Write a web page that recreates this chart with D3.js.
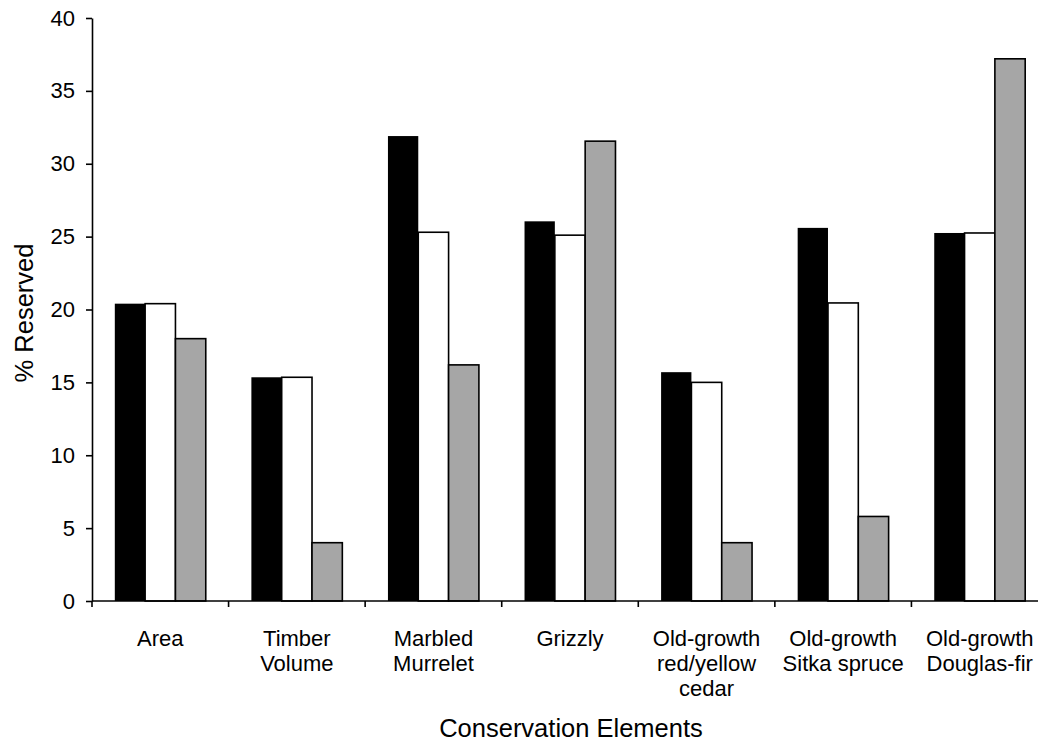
<!DOCTYPE html>
<html>
<head>
<meta charset="utf-8">
<script src="https://d3js.org/d3.v7.min.js"></script>
<style>
  html, body { margin: 0; padding: 0; background: #fff; }
  svg { display: block; font-family: "Liberation Sans", Arial, sans-serif; }
</style>
</head>
<body>
<div id="chart"></div>
<script>
// categories (label lines) and the three series
const categories = [
  ["Area"],
  ["Timber", "Volume"],
  ["Marbled", "Murrelet"],
  ["Grizzly"],
  ["Old-growth", "red/yellow", "cedar"],
  ["Old-growth", "Sitka spruce"],
  ["Old-growth", "Douglas-fir"]
];
const seriesBlack = [20.4, 15.35, 31.9, 26.05, 15.7, 25.6, 25.25];
const seriesWhite = [20.4, 15.35, 25.3, 25.1, 15.0, 20.45, 25.25];
const seriesGray  = [18.0, 4.0, 16.2, 31.55, 4.0, 5.8, 37.2];
const yTicks = [0, 5, 10, 15, 20, 25, 30, 35, 40];

const width = 1038, height = 746;
const plotLeft = 92, plotRight = 1048, plotTop = 18, plotBottom = 601;

const svg = d3.select("#chart").append("svg")
  .attr("width", width)
  .attr("height", height);

const keys = ["black", "white", "gray"];
const fills = { black: "#000000", white: "#ffffff", gray: "#a6a6a6" };
const data = categories.map((c, i) => ({
  idx: i,
  black: seriesBlack[i],
  white: seriesWhite[i],
  gray: seriesGray[i]
}));

const x = d3.scaleBand()
  .domain(d3.range(categories.length))
  .range([plotLeft, plotRight])
  .paddingInner(0)
  .paddingOuter(0);

const groupPad = 0.334;
const x1 = d3.scaleBand()
  .domain(keys)
  .range([x.bandwidth() * groupPad / 2, x.bandwidth() * (1 - groupPad / 2)]);

const y = d3.scaleLinear().domain([0, 40]).range([plotBottom, plotTop]);

// bars
const groups = svg.append("g").selectAll("g")
  .data(data)
  .join("g")
  .attr("transform", d => `translate(${x(d.idx)},0)`);

groups.selectAll("rect")
  .data(d => keys.map(k => ({ key: k, value: d[k] })))
  .join("rect")
  .attr("x", d => x1(d.key))
  .attr("y", d => y(d.value))
  .attr("width", x1.bandwidth())
  .attr("height", d => plotBottom - y(d.value))
  .attr("fill", d => fills[d.key])
  .attr("stroke", "#000")
  .attr("stroke-width", d => d.key === "black" ? 0 : 1.6);

// y axis
const yAxis = svg.append("g")
  .attr("transform", `translate(${plotLeft},0)`)
  .call(d3.axisLeft(y).tickValues(yTicks).tickSize(6).tickPadding(11).tickSizeOuter(0));
yAxis.select(".domain").attr("stroke-width", 1.6);
yAxis.selectAll(".tick line").attr("stroke-width", 1.6);
yAxis.selectAll(".tick text")
  .attr("font-size", "22px")
  .attr("font-family", "Liberation Sans, Arial, sans-serif")
  .attr("fill", "#000");

// x axis: ticks at band edges
const edges = d3.range(categories.length + 1).map(i => plotLeft + i * x.step());
const xAxisG = svg.append("g");
xAxisG.append("line")
  .attr("x1", plotLeft).attr("x2", plotRight)
  .attr("y1", plotBottom).attr("y2", plotBottom)
  .attr("stroke", "#000").attr("stroke-width", 1.6);
xAxisG.selectAll("line.tick")
  .data(edges)
  .join("line")
  .attr("class", "tick")
  .attr("x1", d => d).attr("x2", d => d)
  .attr("y1", plotBottom).attr("y2", plotBottom + 6)
  .attr("stroke", "#000").attr("stroke-width", 1.6);

// category labels
const labels = svg.append("g").selectAll("text")
  .data(categories)
  .join("text")
  .attr("x", (d, i) => x(i) + x.bandwidth() / 2)
  .attr("y", 646)
  .attr("text-anchor", "middle")
  .attr("font-size", "22px")
  .attr("fill", "#000");
labels.selectAll("tspan")
  .data(d => d)
  .join("tspan")
  .attr("x", function () { return d3.select(this.parentNode).attr("x"); })
  .attr("dy", (d, i) => i === 0 ? 0 : 25)
  .text(d => d);

// axis titles
svg.append("text")
  .attr("transform", `translate(33,313) rotate(-90)`)
  .attr("text-anchor", "middle")
  .attr("font-size", "25.5px")
  .attr("fill", "#000")
  .text("% Reserved");

svg.append("text")
  .attr("x", 571)
  .attr("y", 737)
  .attr("text-anchor", "middle")
  .attr("font-size", "25.5px")
  .attr("fill", "#000")
  .text("Conservation Elements");
</script>
</body>
</html>
